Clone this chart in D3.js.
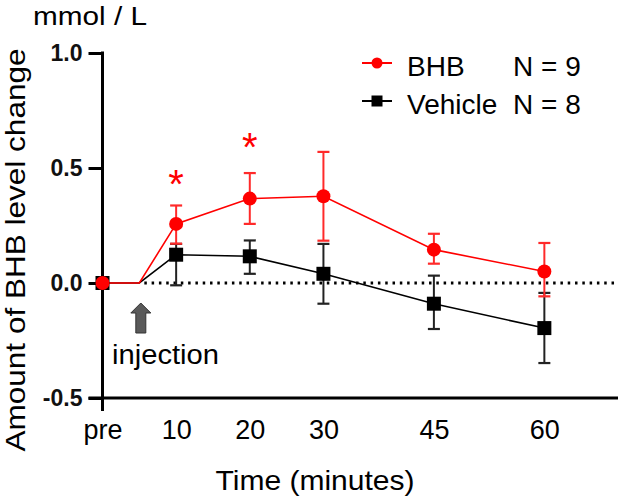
<!DOCTYPE html>
<html>
<head>
<meta charset="utf-8">
<script src="https://cdn.jsdelivr.net/npm/d3@7"></script>
<style>
  html, body { margin: 0; padding: 0; background: #fff; }
  svg { display: block; font-family: "Liberation Sans", Arial, sans-serif; }
</style>
</head>
<body>
<svg id="chart" width="629" height="502"></svg>
<script>
// ---------- data ----------
const times = [0, 10, 20, 30, 45, 60];
const xTickLabels = ["pre", "10", "20", "30", "45", "60"];
const injectionTime = 5;

const bhbMean  = [0, 0.257, 0.367, 0.377, 0.145, 0.050];
const bhbUpper = [0, 0.337, 0.478, 0.570, 0.214, 0.174];
const bhbLower = [0, 0.171, 0.257, 0.184, 0.084, -0.058];

const vehMean  = [0, 0.123, 0.116, 0.040, -0.090, -0.196];
const vehUpper = [0, 0.170, 0.185, 0.170, 0.032, -0.043];
const vehLower = [0, -0.010, 0.040, -0.090, -0.200, -0.348];

const yTicks = [-0.5, 0.0, 0.5, 1.0];
const sigTimes = [10, 20];
const sigLevels = [0.47, 0.63];

const seriesNames = ["BHB", "Vehicle"];
const seriesN = ["N = 9", "N = 8"];

// ---------- setup ----------
const svg = d3.select("#chart");
const x = d3.scaleLinear().domain([0, 70]).range([102.5, 618]);
const y = d3.scaleLinear().domain([-0.5, 1.0]).range([398, 53]);

const RED = "#ff0000";
const BLACK = "#000000";

// y axis
const yAxis = d3.axisLeft(y).tickValues(yTicks).tickSize(14).tickPadding(6)
  .tickFormat(d => d3.format(".1f")(d).replace("−", "-"));
const gy = svg.append("g").attr("transform", `translate(${x(0)},0)`).call(yAxis);
gy.select(".domain").remove();
gy.selectAll(".tick line").attr("stroke", "#000").attr("stroke-width", 3);
gy.selectAll(".tick text").attr("font-size", 23).attr("font-weight", "bold")
  .attr("fill", "#111").attr("font-family", "Liberation Sans, Arial, sans-serif");
// y axis line (extends below the x axis, as a tick at "pre")
svg.append("line").attr("x1", x(0)).attr("x2", x(0))
  .attr("y1", y(1.0) - 1.5).attr("y2", y(-0.5) + 13)
  .attr("stroke", "#000").attr("stroke-width", 3);

// x axis
const xAxis = d3.axisBottom(x).tickValues(times).tickSize(0).tickPadding(22)
  .tickFormat((d, i) => xTickLabels[i]);
const gx = svg.append("g").attr("transform", `translate(0,${y(-0.5)})`).call(xAxis);
gx.select(".domain").remove();
gx.selectAll(".tick text").attr("font-size", 27).attr("fill", "#000")
  .attr("font-family", "Liberation Sans, Arial, sans-serif");
svg.append("line").attr("x1", x(0) - 14).attr("x2", x(70))
  .attr("y1", y(-0.5)).attr("y2", y(-0.5))
  .attr("stroke", "#000").attr("stroke-width", 3);

// zero dotted line
svg.append("line").attr("x1", x(injectionTime) + 5).attr("x2", x(70))
  .attr("y1", y(0)).attr("y2", y(0))
  .attr("stroke", "#000").attr("stroke-width", 3)
  .attr("stroke-dasharray", "2.5,4.8");

// titles
svg.append("text").attr("x", 33).attr("y", 25)
  .attr("font-size", 25).attr("textLength", 114).attr("lengthAdjust", "spacingAndGlyphs")
  .text("mmol / L");
svg.append("text")
  .attr("transform", `translate(25,${(48 + 452) / 2}) rotate(-90)`)
  .attr("text-anchor", "middle").attr("font-size", 28)
  .attr("textLength", 403).attr("lengthAdjust", "spacingAndGlyphs")
  .text("Amount of BHB level change");
svg.append("text").attr("x", 315).attr("y", 490).attr("text-anchor", "middle")
  .attr("font-size", 28).attr("textLength", 199).attr("lengthAdjust", "spacingAndGlyphs")
  .text("Time (minutes)");

// ---------- series ----------
function buildPoints(means) {
  const pts = [{ t: times[0], v: means[0] }, { t: injectionTime, v: 0 }];
  for (let i = 1; i < times.length; i++) pts.push({ t: times[i], v: means[i] });
  return pts;
}
const line = d3.line().x(d => x(d.t)).y(d => y(d.v));

const series = [
  { name: "Vehicle", color: BLACK, errColor: "#222", mean: vehMean, up: vehUpper, lo: vehLower, shape: "square" },
  { name: "BHB", color: RED, errColor: "#ff2a2a", mean: bhbMean, up: bhbUpper, lo: bhbLower, shape: "circle" }
];

// lines
series.forEach(s => {
  svg.append("path").datum(buildPoints(s.mean)).attr("d", line)
    .attr("fill", "none").attr("stroke", s.color).attr("stroke-width", 1.6);
});

// error bars
series.forEach(s => {
  const g = svg.append("g");
  times.forEach((t, i) => {
    if (i === 0) return;
    const cx = x(t);
    g.append("line").attr("x1", cx).attr("x2", cx).attr("y1", y(s.up[i])).attr("y2", y(s.lo[i]))
      .attr("stroke", s.errColor).attr("stroke-width", 2);
    [s.up[i], s.lo[i]].forEach(v => {
      g.append("line").attr("x1", cx - 6).attr("x2", cx + 6).attr("y1", y(v)).attr("y2", y(v))
        .attr("stroke", s.errColor).attr("stroke-width", 2.2);
    });
  });
});

// markers
series.forEach(s => {
  const g = svg.append("g");
  times.forEach((t, i) => {
    if (s.shape === "square") {
      g.append("rect").attr("x", x(t) - 7).attr("y", y(s.mean[i]) - 7)
        .attr("width", 14).attr("height", 14).attr("fill", s.color);
    } else {
      g.append("circle").attr("cx", x(t)).attr("cy", y(s.mean[i])).attr("r", 7).attr("fill", s.color);
    }
  });
});

// significance asterisks
const astSize = 40;
sigTimes.forEach((t, i) => {
  svg.append("text").attr("x", x(t)).attr("y", y(sigLevels[i]) + 0.57 * astSize)
    .attr("text-anchor", "middle").attr("font-size", astSize).attr("fill", RED).text("*");
});

// injection arrow
const ax = x(injectionTime) + 1.5, atop = 303, abot = 333;
svg.append("path")
  .attr("d", `M${ax},${atop} L${ax + 10},${atop + 10} L${ax + 5},${atop + 10} L${ax + 5},${abot} L${ax - 5},${abot} L${ax - 5},${atop + 10} L${ax - 10},${atop + 10} Z`)
  .attr("fill", "#5a5a5a").attr("stroke", "#333").attr("stroke-width", 1);
svg.append("text").attr("x", 112).attr("y", 364).attr("font-size", 27)
  .attr("textLength", 107).attr("lengthAdjust", "spacingAndGlyphs").text("injection");

// ---------- legend ----------
const legendY = [63, 101];
const legendSeries = [series[1], series[0]];
legendSeries.forEach((s, i) => {
  const ly = legendY[i];
  svg.append("line").attr("x1", 362).attr("x2", 392).attr("y1", ly).attr("y2", ly)
    .attr("stroke", s.color).attr("stroke-width", 2);
  if (s.shape === "circle") {
    svg.append("circle").attr("cx", 377).attr("cy", ly).attr("r", 5.5).attr("fill", s.color);
  } else {
    svg.append("rect").attr("x", 371.5).attr("y", ly - 5.5).attr("width", 11).attr("height", 11).attr("fill", s.color);
  }
  svg.append("text").attr("x", 407).attr("y", ly + 12.5).attr("font-size", 28).text(seriesNames[i]);
  svg.append("text").attr("x", 513).attr("y", ly + 12.5).attr("font-size", 28).text(seriesN[i]);
});
</script>
</body>
</html>
